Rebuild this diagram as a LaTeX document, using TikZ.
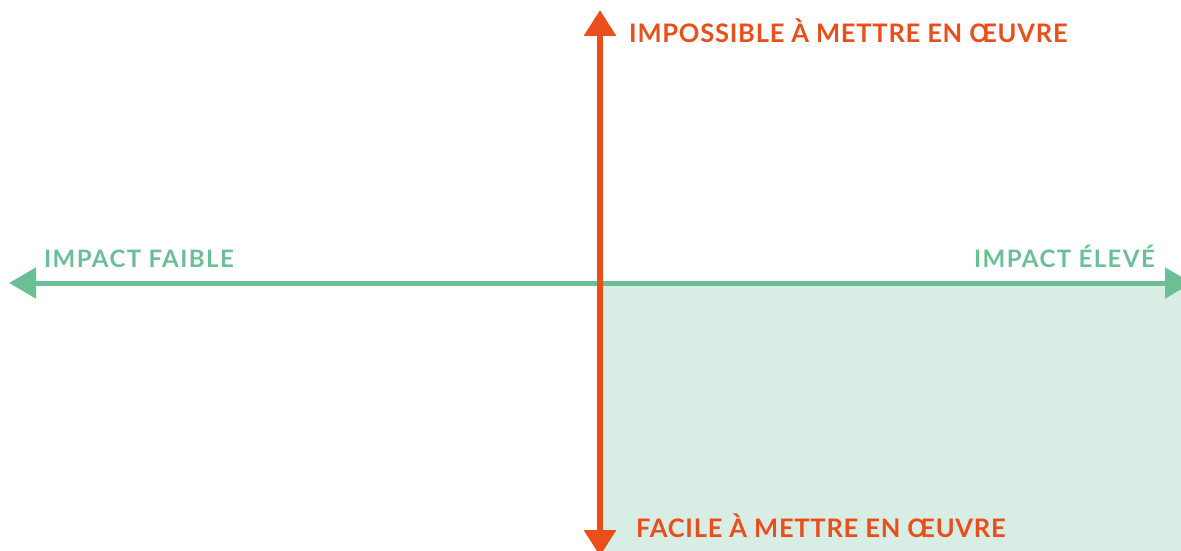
\documentclass[tikz,border=0pt]{standalone}
\usepackage{fontspec}
\setmainfont{Lato}
\usetikzlibrary{arrows.meta, positioning}

\definecolor{axisorange}{HTML}{E94E1B}
\definecolor{axisgreen}{HTML}{6BBF95}
\definecolor{zonegreen}{HTML}{D8EDE3}

\begin{document}
\begin{tikzpicture}[
    x=1pt, y=-1pt,
    vaxis/.style={draw=axisorange, line width=6pt, {Triangle[length=26pt,width=31pt]}-{Triangle[length=26pt,width=31pt]}},
    haxis/.style={draw=axisgreen, line width=5pt, {Triangle[length=27pt,width=30pt]}-{Triangle[length=27pt,width=30pt]}},
    vlabel/.style={text=axisorange, font=\fontsize{25.5}{30}\selectfont\bfseries\addfontfeatures{LetterSpace=3}, inner sep=0pt},
    hlabel/.style={text=axisgreen, font=\fontsize{24}{28}\selectfont\bfseries\addfontfeatures{LetterSpace=6}, inner sep=0pt}
]
\useasboundingbox (0,0) rectangle (1181,551);
\clip (0,0) rectangle (1181,551);

% easy / high impact zone
\fill[zonegreen] (600,283) rectangle (1181,551);

\coordinate (top) at (600,10);
\coordinate (bottom) at (600,556);
\coordinate (left) at (9,283);
\coordinate (right) at (1192,283);

% axes
\draw[haxis] (left) -- (right);
\draw[vaxis] (bottom) -- (top);

% labels
\node[vlabel, anchor=base west] (hard) at (629,43) {IMPOSSIBLE À METTRE EN ŒUVRE};
\node[vlabel, anchor=base west] (easy) at (636,537) {FACILE À METTRE EN ŒUVRE};
\node[hlabel, anchor=base west] (low) at (44,267) {IMPACT FAIBLE};
\node[hlabel, anchor=base east] (high) at (1155,267) {IMPACT ÉLEVÉ};

\end{tikzpicture}
\end{document}
